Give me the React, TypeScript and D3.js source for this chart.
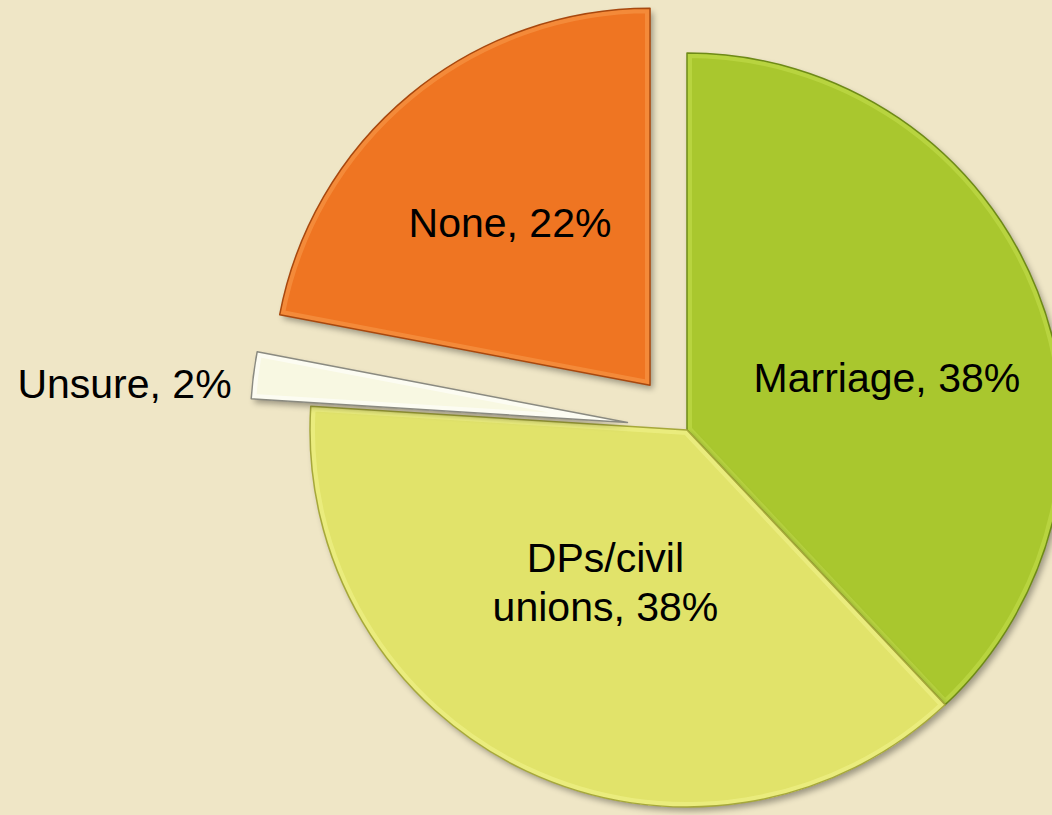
import React, { useEffect } from "react";
import * as d3 from "d3";

const categories = ["Marriage", "DPs/civil unions", "Unsure", "None"];
const values = [38, 38, 2, 22];
const labelLines = [["Marriage, 38%"], ["DPs/civil", "unions, 38%"], ["Unsure, 2%"], ["None, 22%"]];

const colors = ["#A9C72D", "#E1E36A", "#F8F8E2", "#EF7522"];
const edgeColors = ["#6E8A17", "#A6A83A", "#8A8A80", "#A8480E"];
const lightColors = ["#C4DE4E", "#F2F48C", "#FFFFFF", "#F79A4C"];
const explode = [0, 0, 60, 58];
// label nudges relative to centroid (layout)
const labelNudge: [number, number][] = [[0, 27], [10, -43], [0, 11], [-3, 3]];

const W = 1052, H = 815;
const CX = 687, CY = 430, R = 377;
const FONT = 41;

export default function App() {
  useEffect(() => {
    document.body.style.margin = "0";
  }, []);

  const pie = d3.pie<number>().sort(null).value((d) => d)(values);
  const arc = d3.arc<d3.PieArcDatum<number>>().innerRadius(0).outerRadius(R);
  const labelArc = d3.arc<d3.PieArcDatum<number>>().innerRadius(215).outerRadius(215);

  return (
    <svg width={W} height={H} style={{ display: "block" }} fontFamily="'Liberation Sans', Arial, sans-serif">
      <defs>
        <filter id="shadow" x="-20%" y="-20%" width="140%" height="140%">
          <feGaussianBlur in="SourceAlpha" stdDeviation="3" />
          <feOffset dx="3" dy="4" result="ob" />
          <feComponentTransfer>
            <feFuncA type="linear" slope="0.35" />
          </feComponentTransfer>
          <feMerge>
            <feMergeNode />
            <feMergeNode in="SourceGraphic" />
          </feMerge>
        </filter>
        {pie.map((p, i) => (
          <clipPath id={`clip${i}`} key={i}>
            <path d={arc(p) || ""} />
          </clipPath>
        ))}
      </defs>
      <rect x={0} y={0} width={W} height={H} fill="#EFE6C6" />
      {pie.map((p, i) => {
        const mid = (p.startAngle + p.endAngle) / 2;
        const ox = CX + explode[i] * Math.sin(mid);
        const oy = CY - explode[i] * Math.cos(mid);
        const d = arc(p) || "";
        return (
          <g key={categories[i]} transform={`translate(${ox},${oy})`}>
            <path d={d} fill={colors[i]} filter="url(#shadow)" />
            <path d={d} fill="none" stroke={lightColors[i]} strokeWidth={10} strokeOpacity={0.55} clipPath={`url(#clip${i})`} />
            <path d={d} fill="none" stroke={edgeColors[i]} strokeWidth={1.5} strokeLinejoin="round" />
          </g>
        );
      })}
      {pie.map((p, i) => {
        const mid = (p.startAngle + p.endAngle) / 2;
        const ox = CX + explode[i] * Math.sin(mid);
        const oy = CY - explode[i] * Math.cos(mid);
        if (categories[i] === "Unsure") {
          const outer = d3.arc<d3.PieArcDatum<number>>().innerRadius(R + 22).outerRadius(R + 22).centroid(p);
          return (
            <text key={i} x={ox + outer[0] + labelNudge[i][0]} y={oy + outer[1] + 15 + labelNudge[i][1]} fontSize={FONT} textAnchor="end" fill="#000">
              {labelLines[i][0]}
            </text>
          );
        }
        const c = labelArc.centroid(p);
        const x = ox + c[0] + labelNudge[i][0];
        const y = oy + c[1] + labelNudge[i][1];
        const n = labelLines[i].length;
        const lh = 49;
        return (
          <text key={i} fontSize={FONT} textAnchor="middle" fill="#000">
            {labelLines[i].map((s, k) => (
              <tspan key={k} x={x} y={y + 14.5 + (k - (n - 1) / 2) * lh}>{s}</tspan>
            ))}
          </text>
        );
      })}
    </svg>
  );
}
